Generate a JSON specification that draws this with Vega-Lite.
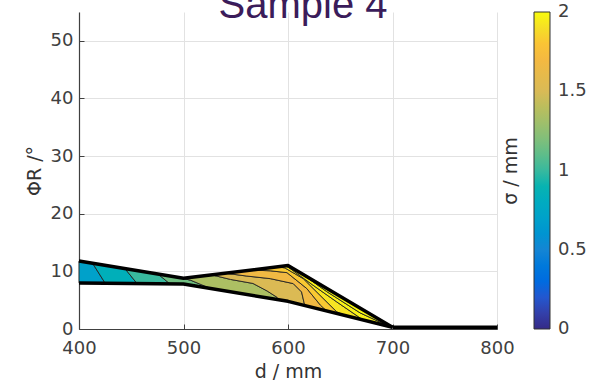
{
  "$schema": "https://vega.github.io/schema/vega-lite/v6.json",
  "width": 418,
  "height": 317,
  "autosize": {"type": "none"},
  "padding": {"left": 79, "top": 12, "right": 97, "bottom": 56},
  "background": "white",
  "title": {"text": "Sample 4", "font": "Liberation Sans", "fontSize": 40, "fontWeight": "normal", "color": "#3b1c5a", "anchor": "middle", "dx": 15, "dy": 46, "baseline": "alphabetic", "offset": 0, "frame": "group"},
  "config": {
    "view": {"stroke": null},
    "axis": {
      "labelFont": "DejaVu Sans", "labelFontSize": 18, "labelColor": "#404040",
      "titleFont": "DejaVu Sans", "titleFontSize": 19, "titleFontWeight": "normal", "titleColor": "#333333",
      "domainColor": "#404040", "domainWidth": 1.2, "tickColor": "#404040", "tickSize": -5,
      "gridColor": "#e2e2e2", "gridWidth": 1, "labelFlush": false
    }
  },
  "datasets": {
    "bands": [
      {"band": "B1", "i": 1, "d": 400, "phi": 11.8, "sigma": 0.7},
      {"band": "B1", "i": 2, "d": 400, "phi": 8.0, "sigma": 0.7},
      {"band": "B1", "i": 3, "d": 425, "phi": 7.95, "sigma": 0.7},
      {"band": "B1", "i": 4, "d": 413, "phi": 11.41, "sigma": 0.7},

      {"band": "B2", "i": 1, "d": 413, "phi": 11.41, "sigma": 0.85},
      {"band": "B2", "i": 2, "d": 425, "phi": 7.95, "sigma": 0.85},
      {"band": "B2", "i": 3, "d": 455.5, "phi": 7.89, "sigma": 0.85},
      {"band": "B2", "i": 4, "d": 444, "phi": 10.48, "sigma": 0.85},

      {"band": "B3", "i": 1, "d": 444, "phi": 10.48, "sigma": 1.0},
      {"band": "B3", "i": 2, "d": 455.5, "phi": 7.89, "sigma": 1.0},
      {"band": "B3", "i": 3, "d": 487, "phi": 7.83, "sigma": 1.0},
      {"band": "B3", "i": 4, "d": 475.6, "phi": 9.53, "sigma": 1.0},

      {"band": "B4", "i": 1, "d": 475.6, "phi": 9.53, "sigma": 1.15},
      {"band": "B4", "i": 2, "d": 487, "phi": 7.83, "sigma": 1.15},
      {"band": "B4", "i": 3, "d": 500, "phi": 7.8, "sigma": 1.15},
      {"band": "B4", "i": 4, "d": 526, "phi": 7.02, "sigma": 1.15},
      {"band": "B4", "i": 5, "d": 507, "phi": 8.45, "sigma": 1.15},
      {"band": "B4", "i": 6, "d": 498, "phi": 8.85, "sigma": 1.15},

      {"band": "B5", "i": 1, "d": 498, "phi": 8.85, "sigma": 1.35},
      {"band": "B5", "i": 2, "d": 507, "phi": 8.45, "sigma": 1.35},
      {"band": "B5", "i": 3, "d": 526, "phi": 7.02, "sigma": 1.35},
      {"band": "B5", "i": 4, "d": 591, "phi": 5.07, "sigma": 1.35},
      {"band": "B5", "i": 5, "d": 589.5, "phi": 5.5, "sigma": 1.35},
      {"band": "B5", "i": 6, "d": 580, "phi": 6.6, "sigma": 1.35},
      {"band": "B5", "i": 7, "d": 566.5, "phi": 7.9, "sigma": 1.35},
      {"band": "B5", "i": 8, "d": 545, "phi": 8.6, "sigma": 1.35},
      {"band": "B5", "i": 9, "d": 527, "phi": 9.39, "sigma": 1.35},
      {"band": "B5", "i": 10, "d": 500, "phi": 8.8, "sigma": 1.35},

      {"band": "B6", "i": 1, "d": 527, "phi": 9.39, "sigma": 1.52},
      {"band": "B6", "i": 2, "d": 545, "phi": 8.6, "sigma": 1.52},
      {"band": "B6", "i": 3, "d": 566.5, "phi": 7.9, "sigma": 1.52},
      {"band": "B6", "i": 4, "d": 580, "phi": 6.6, "sigma": 1.52},
      {"band": "B6", "i": 5, "d": 589.5, "phi": 5.5, "sigma": 1.52},
      {"band": "B6", "i": 6, "d": 591, "phi": 5.07, "sigma": 1.52},
      {"band": "B6", "i": 7, "d": 600, "phi": 4.8, "sigma": 1.52},
      {"band": "B6", "i": 8, "d": 616, "phi": 4.08, "sigma": 1.52},
      {"band": "B6", "i": 9, "d": 613, "phi": 6.43, "sigma": 1.52},
      {"band": "B6", "i": 10, "d": 605, "phi": 7.88, "sigma": 1.52},
      {"band": "B6", "i": 11, "d": 583, "phi": 8.74, "sigma": 1.52},
      {"band": "B6", "i": 12, "d": 560, "phi": 9.2, "sigma": 1.52},
      {"band": "B6", "i": 13, "d": 540, "phi": 9.68, "sigma": 1.52},

      {"band": "B7", "i": 1, "d": 540, "phi": 9.68, "sigma": 1.68},
      {"band": "B7", "i": 2, "d": 560, "phi": 9.2, "sigma": 1.68},
      {"band": "B7", "i": 3, "d": 583, "phi": 8.74, "sigma": 1.68},
      {"band": "B7", "i": 4, "d": 605, "phi": 7.88, "sigma": 1.68},
      {"band": "B7", "i": 5, "d": 613, "phi": 6.43, "sigma": 1.68},
      {"band": "B7", "i": 6, "d": 616, "phi": 4.08, "sigma": 1.68},
      {"band": "B7", "i": 7, "d": 637, "phi": 3.13, "sigma": 1.68},
      {"band": "B7", "i": 8, "d": 631, "phi": 4.14, "sigma": 1.68},
      {"band": "B7", "i": 9, "d": 618, "phi": 7.02, "sigma": 1.68},
      {"band": "B7", "i": 10, "d": 599, "phi": 9.78, "sigma": 1.68},
      {"band": "B7", "i": 11, "d": 583, "phi": 10.1, "sigma": 1.68},
      {"band": "B7", "i": 12, "d": 565, "phi": 10.23, "sigma": 1.68},

      {"band": "B8", "i": 1, "d": 565, "phi": 10.23, "sigma": 1.82},
      {"band": "B8", "i": 2, "d": 583, "phi": 10.1, "sigma": 1.82},
      {"band": "B8", "i": 3, "d": 599, "phi": 9.78, "sigma": 1.82},
      {"band": "B8", "i": 4, "d": 618, "phi": 7.02, "sigma": 1.82},
      {"band": "B8", "i": 5, "d": 631, "phi": 4.14, "sigma": 1.82},
      {"band": "B8", "i": 6, "d": 637, "phi": 3.13, "sigma": 1.82},
      {"band": "B8", "i": 7, "d": 656, "phi": 2.28, "sigma": 1.82},
      {"band": "B8", "i": 8, "d": 646.6, "phi": 2.98, "sigma": 1.82},
      {"band": "B8", "i": 9, "d": 630.6, "phi": 5.86, "sigma": 1.82},
      {"band": "B8", "i": 10, "d": 614.6, "phi": 8.74, "sigma": 1.82},
      {"band": "B8", "i": 11, "d": 597, "phi": 10.6, "sigma": 1.82},
      {"band": "B8", "i": 12, "d": 590, "phi": 10.78, "sigma": 1.82},

      {"band": "B9", "i": 1, "d": 590, "phi": 10.78, "sigma": 1.92},
      {"band": "B9", "i": 2, "d": 597, "phi": 10.6, "sigma": 1.92},
      {"band": "B9", "i": 3, "d": 614.6, "phi": 8.74, "sigma": 1.92},
      {"band": "B9", "i": 4, "d": 630.6, "phi": 5.86, "sigma": 1.92},
      {"band": "B9", "i": 5, "d": 646.6, "phi": 2.98, "sigma": 1.92},
      {"band": "B9", "i": 6, "d": 656, "phi": 2.28, "sigma": 1.92},
      {"band": "B9", "i": 7, "d": 678, "phi": 1.29, "sigma": 1.92},
      {"band": "B9", "i": 8, "d": 672, "phi": 1.55, "sigma": 1.92},
      {"band": "B9", "i": 9, "d": 646.6, "phi": 4.71, "sigma": 1.92},
      {"band": "B9", "i": 10, "d": 624, "phi": 7.59, "sigma": 1.92},
      {"band": "B9", "i": 11, "d": 602, "phi": 10.5, "sigma": 1.92},
      {"band": "B9", "i": 12, "d": 598, "phi": 10.96, "sigma": 1.92},

      {"band": "B10", "i": 1, "d": 598, "phi": 10.96, "sigma": 1.97},
      {"band": "B10", "i": 2, "d": 602, "phi": 10.5, "sigma": 1.97},
      {"band": "B10", "i": 3, "d": 624, "phi": 7.59, "sigma": 1.97},
      {"band": "B10", "i": 4, "d": 646.6, "phi": 4.71, "sigma": 1.97},
      {"band": "B10", "i": 5, "d": 672, "phi": 1.55, "sigma": 1.97},
      {"band": "B10", "i": 6, "d": 678, "phi": 1.29, "sigma": 1.97},
      {"band": "B10", "i": 7, "d": 697, "phi": 0.43, "sigma": 1.97},
      {"band": "B10", "i": 8, "d": 669, "phi": 2.8, "sigma": 1.97},
      {"band": "B10", "i": 9, "d": 637, "phi": 6.5, "sigma": 1.97},
      {"band": "B10", "i": 10, "d": 620, "phi": 8.7, "sigma": 1.97},
      {"band": "B10", "i": 11, "d": 603, "phi": 10.68, "sigma": 1.97},
      {"band": "B10", "i": 12, "d": 600, "phi": 11.0, "sigma": 1.97},

      {"band": "B11", "i": 1, "d": 603, "phi": 10.68, "sigma": 2.0},
      {"band": "B11", "i": 2, "d": 620, "phi": 8.7, "sigma": 2.0},
      {"band": "B11", "i": 3, "d": 637, "phi": 6.5, "sigma": 2.0},
      {"band": "B11", "i": 4, "d": 669, "phi": 2.8, "sigma": 2.0},
      {"band": "B11", "i": 5, "d": 697, "phi": 0.43, "sigma": 2.0},
      {"band": "B11", "i": 6, "d": 700, "phi": 0.3, "sigma": 2.0}
    ],
    "edges": [
      {"edge": "upper", "d": 400, "phi": 11.8},
      {"edge": "upper", "d": 500, "phi": 8.8},
      {"edge": "upper", "d": 600, "phi": 11.0},
      {"edge": "upper", "d": 700, "phi": 0.3},
      {"edge": "lower", "d": 400, "phi": 8.0},
      {"edge": "lower", "d": 500, "phi": 7.8},
      {"edge": "lower", "d": 600, "phi": 4.8},
      {"edge": "lower", "d": 700, "phi": 0.3},
      {"edge": "tail", "d": 700, "phi": 0.3},
      {"edge": "tail", "d": 800, "phi": 0.3}
    ]
  },
  "layer": [
    {
      "data": {"name": "bands"},
      "mark": {"type": "line", "stroke": "#222222", "strokeWidth": 0.9, "strokeJoin": "round"},
      "encoding": {
        "x": {"field": "d", "type": "quantitative",
              "scale": {"domain": [400, 800], "nice": false, "zero": false},
              "axis": {"values": [400, 500, 600, 700, 800], "title": "d / mm", "grid": true, "labelPadding": 15, "titlePadding": 5}},
        "y": {"field": "phi", "type": "quantitative",
              "scale": {"domain": [0, 55], "nice": false, "zero": true},
              "axis": {"values": [0, 10, 20, 30, 40, 50], "title": "ΦR /°", "grid": true, "labelPadding": 11, "titlePadding": 6}},
        "order": {"field": "i", "type": "quantitative"},
        "detail": {"field": "band", "type": "nominal"},
        "fill": {"field": "sigma", "type": "quantitative",
                 "scale": {"domain": [0, 0.25, 0.5, 0.75, 1.0, 1.25, 1.5, 1.75, 1.88, 2.0],
                           "range": ["#352a87", "#0363e1", "#1485d4", "#06a7c6", "#38b99e", "#92bf73", "#d9ba56", "#fbb83c", "#f4d92a", "#f9fb0e"]},
                 "legend": {"orient": "none", "legendX": 423, "legendY": 0, "direction": "vertical",
                            "gradientLength": 317, "gradientThickness": 16,
                            "gradientStrokeColor": "#333333", "gradientStrokeWidth": 1,
                            "values": [0.0001, 0.5, 1, 1.5, 1.9999],
                            "labelExpr": "format(datum.value, '.1~f')",
                            "labelFont": "DejaVu Sans", "labelFontSize": 18, "labelColor": "#404040", "labelOffset": 8,
                            "title": "σ / mm", "titleOrient": "left", "titleAngle": 270, "titleFont": "DejaVu Sans",
                            "titleFontSize": 19, "titleFontWeight": "normal", "titleColor": "#333333",
                            "titleAnchor": "middle", "titlePadding": 12}}
      }
    },
    {
      "data": {"name": "edges"},
      "mark": {"type": "line", "color": "#000000", "strokeJoin": "round", "strokeCap": "butt"},
      "encoding": {
        "x": {"field": "d", "type": "quantitative"},
        "y": {"field": "phi", "type": "quantitative"},
        "detail": {"field": "edge", "type": "nominal"},
        "strokeWidth": {"field": "edge", "type": "nominal",
                        "scale": {"domain": ["upper", "lower", "tail"], "range": [3.5, 3.5, 5]}, "legend": null}
      }
    }
  ]
}
